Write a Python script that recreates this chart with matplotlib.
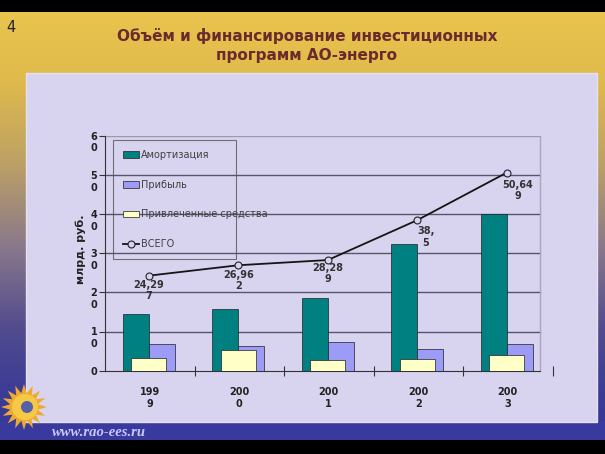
import numpy as np
import matplotlib
matplotlib.use('Agg')
from matplotlib import pyplot as plt
from matplotlib.patches import Rectangle, Patch, Circle, Polygon
from matplotlib.lines import Line2D
from matplotlib.transforms import ScaledTranslation

plt.rcParams['font.family'] = ['DejaVu Sans']

# данные
years = ['1999', '2000', '2001', '2002', '2003']
amort = [14.5, 15.9, 18.5, 32.3, 40.1]
profit = [6.9, 6.2, 7.4, 5.6, 6.9]
borrowed = [3.3, 5.3, 2.7, 3.0, 4.1]
total = [24.297, 26.962, 28.289, 38.5, 50.649]
total_labels = ['24,29\n7', '26,96\n2', '28,28\n9', '38,\n5', '50,64\n9']
series_names = ['Амортизация', 'Прибыль', 'Привлеченные средства', 'ВСЕГО']
yticks = [0, 10, 20, 30, 40, 50, 60]

teal = '#008080'
violet = '#9c9cf6'
cream = '#ffffc8'
panel_c = '#d8d4f0'

W, H = 605, 454
fig = plt.figure(figsize=(W / 100, H / 100), dpi=100)

# фон слайда (пиксельные координаты)
bg = fig.add_axes([0, 0, 1, 1])
bg.set_xlim(0, W)
bg.set_ylim(H, 0)
bg.axis('off')
stops_y = [0, 80, 160, 250, 330, 400, 454]
stops_c = np.array([[234, 198, 78], [224, 186, 76], [190, 162, 100],
                    [135, 118, 140], [80, 74, 142], [58, 58, 152], [52, 52, 150]]) / 255
rows = np.arange(H)
grad = np.stack([np.interp(rows, stops_y, stops_c[:, k]) for k in range(3)], axis=1)
bg.imshow(np.repeat(grad[:, None, :], 4, axis=1), extent=(0, W, H, 0), aspect='auto', zorder=0)
bg.add_patch(Rectangle((0, 421), W, 19, fc='#3a3a9e', ec='none', zorder=1))
bg.add_patch(Rectangle((26, 73), 571, 349, fc=panel_c, ec='#e4e2f2', lw=1, zorder=2))
bg.add_patch(Rectangle((0, 0), W, 12, fc='black', ec='none', zorder=3))
bg.add_patch(Rectangle((0, 440), W, 14, fc='black', ec='none', zorder=3))

# солнце-логотип
ang = np.linspace(0, 2 * np.pi, 33)[:-1]
rad = np.where(np.arange(32) % 2 == 0, 23, 14)
bg.add_patch(Polygon(np.c_[24 + rad * np.cos(ang), 407 + rad * np.sin(ang)],
                     fc='#eeaa30', ec='none', zorder=4))
bg.add_patch(Circle((25, 407), 13, fc='#f6c848', ec='none', zorder=5))
bg.add_patch(Circle((27, 407), 6, fc='#5560a8', ec='none', zorder=6))
bg.text(52, 432, 'www.rao-ees.ru', family='Liberation Serif', style='italic',
        weight='bold', fontsize=10.5, color='#c8c8ff', va='center', zorder=6)

bg.text(6, 27, '4', fontsize=10.5, color='#222222', va='center', zorder=6)
bg.text(307, 45.5, 'Объём и финансирование инвестиционных\nпрограмм АО-энерго',
        fontsize=11, weight='bold', color='#6b2a2e', ha='center', va='center',
        linespacing=1.35, zorder=6)
bg.text(81, 249, 'млрд. руб.', rotation=90, fontsize=8, weight='bold',
        color='#222222', ha='center', va='center', zorder=6)

# диаграмма
ax = fig.add_axes([105 / W, (H - 370.7) / H, 447.5 / W, 234.7 / H])
ax.patch.set_alpha(0)
x = np.arange(len(years))
ax.set_xlim(-0.5, 4.5)
ax.set_ylim(0, 60)
xr = 4.36

for v in yticks[1:]:
    ax.plot([-0.5, xr], [v, v], color='#9a98b0' if v == 60 else '#55556a', lw=1, zorder=1)
ax.plot([xr, xr], [0, 60], color='#a8a6c0', lw=1, zorder=1)

ax.bar(x - 0.155, amort, 0.29, color=teal, edgecolor='#202020', lw=0.5, zorder=2)
ax.bar(x + 0.135, profit, 0.29, color=violet, edgecolor='#202020', lw=0.5, zorder=2)
ax.bar(x - 0.01, borrowed, 0.39, color=cream, edgecolor='#202020', lw=0.5, zorder=3)
ax.plot(x - 0.01, total, color='#151515', lw=1.3, marker='o', ms=5,
        mfc=panel_c, mec='#222222', mew=0.8, zorder=4)

offs = [(0, -3), (0, -3.3), (0, -2), (6, -4.5), (8, -5)]
for xi, v, s, o in zip(x, total, total_labels, offs):
    ax.annotate(s, (xi - 0.01, v), xytext=o, textcoords='offset points',
                ha='center', va='top', fontsize=7, weight='bold', color='#333333',
                zorder=5)

for s in ['top', 'right']:
    ax.spines[s].set_visible(False)
ax.spines['left'].set_color('#333333')
ax.spines['bottom'].set_color('#333333')
ax.spines['bottom'].set_bounds(-0.5, xr)

ax.set_yticks(yticks)
ax.set_yticklabels(['\n'.join(str(v)) for v in yticks], fontsize=7, weight='bold',
                   color='#222222')
ax.tick_params(axis='y', length=4, width=0.8, color='#333333', pad=1.5)
for lbl in ax.get_yticklabels():
    lbl.set_va('top')
    lbl.set_transform(lbl.get_transform() + ScaledTranslation(0, 3 / 72, fig.dpi_scale_trans))

ax.set_xticks(x)
ax.set_xticklabels([y[:3] + '\n' + y[3:] for y in years], fontsize=7, weight='bold',
                   color='#222222')
ax.set_xticks(x + 0.5, minor=True)
ax.tick_params(axis='x', which='major', length=0, pad=12)
ax.tick_params(axis='x', which='minor', length=7, width=0.8, direction='inout',
               color='#333333')

handles = [Patch(fc=teal, ec='#202020', lw=0.5),
           Patch(fc=violet, ec='#202020', lw=0.5),
           Patch(fc=cream, ec='#202020', lw=0.5),
           Line2D([], [], color='#151515', lw=1.3, marker='o', ms=5,
                  mfc=panel_c, mec='#222222', mew=0.8)]
leg = ax.legend(handles, series_names, loc='upper left',
                bbox_to_anchor=(0.0172, 0.983, 0.275, 0), mode='expand',
                borderaxespad=0, fontsize=7, labelspacing=2.02, borderpad=1.05,
                handlelength=1.65, handletextpad=0.25, fancybox=False,
                edgecolor='#555555', labelcolor='#404040')
leg.get_frame().set_facecolor('none')
leg.get_frame().set_linewidth(0.8)

fig.savefig('out.png', dpi=100)
